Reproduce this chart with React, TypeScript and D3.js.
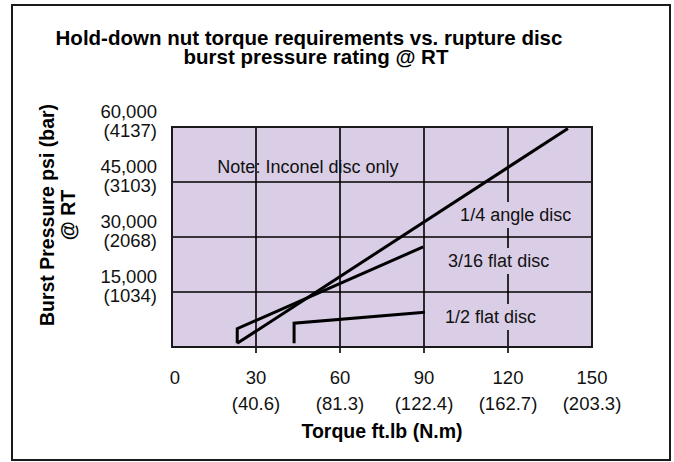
import { useEffect, useRef } from "react";
import * as d3 from "d3";

// torque axis (ft.lb) with the N.m equivalents
const torqueTicks = [0, 30, 60, 90, 120, 150];
const torqueNm = ["", "(40.6)", "(81.3)", "(122.4)", "(162.7)", "(203.3)"];

// pressure axis (psi) with the bar equivalents
const pressureTicks = [15000, 30000, 45000, 60000];
const pressureBar = ["(1034)", "(2068)", "(3103)", "(4137)"];

// series: torque ft.lb, pressure psi
const quarterAngleTorque = [23.3, 141.4];
const quarterAnglePsi = [1000, 59600];
const threeSixteenthTorque = [23.3, 23.3, 89.7];
const threeSixteenthPsi = [1000, 5000, 27300];
const halfFlatTorque = [43.6, 43.6, 90.3];
const halfFlatPsi = [1000, 6500, 9500];

const seriesNames = ["1/4 angle disc", "3/16 flat disc", "1/2 flat disc"];

const FONT = "'Liberation Sans', Arial, Helvetica, sans-serif";

const App = () => {
  const svgRef = useRef<SVGSVGElement | null>(null);

  useEffect(() => {
    if (!svgRef.current) return;
    const svg = d3.select(svgRef.current);
    svg.selectAll("*").remove();

    const width = 674;
    const height = 462;
    const plot = { left: 172, right: 592, top: 127, bottom: 347 };
    const fill = "#dacde6";

    const x = d3.scaleLinear().domain([0, 150]).range([plot.left, plot.right]);
    const y = d3.scaleLinear().domain([0, 60000]).range([plot.bottom, plot.top]);

    svg.attr("width", width).attr("height", height).style("font-family", FONT);

    // outer frame
    svg
      .append("rect")
      .attr("x", 12)
      .attr("y", 5)
      .attr("width", 658)
      .attr("height", 455)
      .attr("fill", "#fff")
      .attr("stroke", "#1a1a1a")
      .attr("stroke-width", 2);

    // title
    const title = svg
      .append("text")
      .attr("text-anchor", "middle")
      .attr("font-weight", "bold")
      .attr("font-size", 20.5)
      .attr("fill", "#000");
    title.append("tspan").attr("x", 309).attr("y", 45).text("Hold-down nut torque requirements vs. rupture disc");
    title.append("tspan").attr("x", 316).attr("y", 64).text("burst pressure rating @ RT");

    // plot background
    svg
      .append("rect")
      .attr("x", plot.left)
      .attr("y", plot.top)
      .attr("width", plot.right - plot.left)
      .attr("height", plot.bottom - plot.top)
      .attr("fill", fill);

    // horizontal grid
    svg
      .append("g")
      .selectAll("line")
      .data(pressureTicks.slice(0, 3))
      .join("line")
      .attr("x1", plot.left)
      .attr("x2", plot.right)
      .attr("y1", (d) => y(d))
      .attr("y2", (d) => y(d))
      .attr("stroke", "#000")
      .attr("stroke-width", 1.6);

    // vertical grid, running a little past the bottom as ticks
    svg
      .append("g")
      .selectAll("line")
      .data(torqueTicks.filter((d) => d > 0 && d < 150))
      .join("line")
      .attr("x1", (d) => x(d))
      .attr("x2", (d) => x(d))
      .attr("y1", plot.top)
      .attr("y2", plot.bottom + 6)
      .attr("stroke", "#000")
      .attr("stroke-width", 1.6);

    // data lines
    const line = d3
      .line<[number, number]>()
      .x((d) => x(d[0]))
      .y((d) => y(d[1]));

    const series = [
      d3.zip(quarterAngleTorque, quarterAnglePsi),
      d3.zip(threeSixteenthTorque, threeSixteenthPsi),
      d3.zip(halfFlatTorque, halfFlatPsi),
    ] as [number, number][][];

    svg
      .append("g")
      .selectAll("path")
      .data(series)
      .join("path")
      .attr("d", (d) => line(d))
      .attr("fill", "none")
      .attr("stroke", "#000")
      .attr("stroke-width", 3)
      .attr("stroke-linejoin", "miter");

    // note
    svg
      .append("text")
      .attr("x", x(16.2))
      .attr("y", y(47450))
      .attr("font-size", 18)
      .attr("fill", "#111")
      .text("Note: Inconel disc only");

    // series labels, boxed in plot colour so they cut the 120 grid line
    const labelPos = [
      [102.9, 34360],
      [98.6, 21820],
      [97.5, 6545],
    ];
    const labels = svg
      .append("g")
      .selectAll("g")
      .data(seriesNames)
      .join("g")
      .attr("transform", (_, i) => `translate(${x(labelPos[i][0])},${y(labelPos[i][1])})`);

    const texts = labels
      .append("text")
      .attr("font-size", 18)
      .attr("fill", "#111")
      .text((d) => d);

    texts.each(function () {
      const bb = (this as SVGTextElement).getBBox();
      d3.select((this as SVGTextElement).parentNode as SVGGElement)
        .insert("rect", "text")
        .attr("x", bb.x - 2)
        .attr("y", bb.y - 3)
        .attr("width", bb.width + 4)
        .attr("height", bb.height + 6)
        .attr("fill", fill);
    });

    // plot frame
    svg
      .append("rect")
      .attr("x", plot.left)
      .attr("y", plot.top)
      .attr("width", plot.right - plot.left)
      .attr("height", plot.bottom - plot.top)
      .attr("fill", "none")
      .attr("stroke", "#1a1a1a")
      .attr("stroke-width", 2);

    // y tick labels
    const yTicks = svg
      .append("g")
      .attr("font-size", 18.5)
      .attr("text-anchor", "end")
      .attr("fill", "#111");
    pressureTicks.forEach((p, i) => {
      yTicks
        .append("text")
        .attr("x", 157)
        .attr("y", y(p) - 9)
        .text(d3.format(",")(p));
      yTicks
        .append("text")
        .attr("x", 157)
        .attr("y", y(p) + 10)
        .text(pressureBar[i]);
    });

    // x tick labels
    const xTicks = svg
      .append("g")
      .attr("font-size", 18.5)
      .attr("text-anchor", "middle")
      .attr("fill", "#111");
    torqueTicks.forEach((t, i) => {
      xTicks
        .append("text")
        .attr("x", x(t) + (t === 0 ? 3 : 0))
        .attr("y", 384)
        .text(t);
      xTicks
        .append("text")
        .attr("x", x(t))
        .attr("y", 410)
        .text(torqueNm[i]);
    });

    // axis titles
    svg
      .append("text")
      .attr("x", x(75))
      .attr("y", 438)
      .attr("text-anchor", "middle")
      .attr("font-weight", "bold")
      .attr("font-size", 19.5)
      .text("Torque ft.lb (N.m)");

    const yTitle = svg
      .append("text")
      .attr("transform", "translate(0,215) rotate(-90)")
      .attr("text-anchor", "middle")
      .attr("font-weight", "bold")
      .attr("font-size", 19.5);
    yTitle.append("tspan").attr("x", 0).attr("y", 54).text("Burst Pressure psi (bar)");
    yTitle.append("tspan").attr("x", 0).attr("y", 75).text("@ RT");
  }, []);

  return (
    <div style={{ position: "absolute", left: 0, top: 0 }}>
      <svg ref={svgRef}></svg>
    </div>
  );
};

export default App;
